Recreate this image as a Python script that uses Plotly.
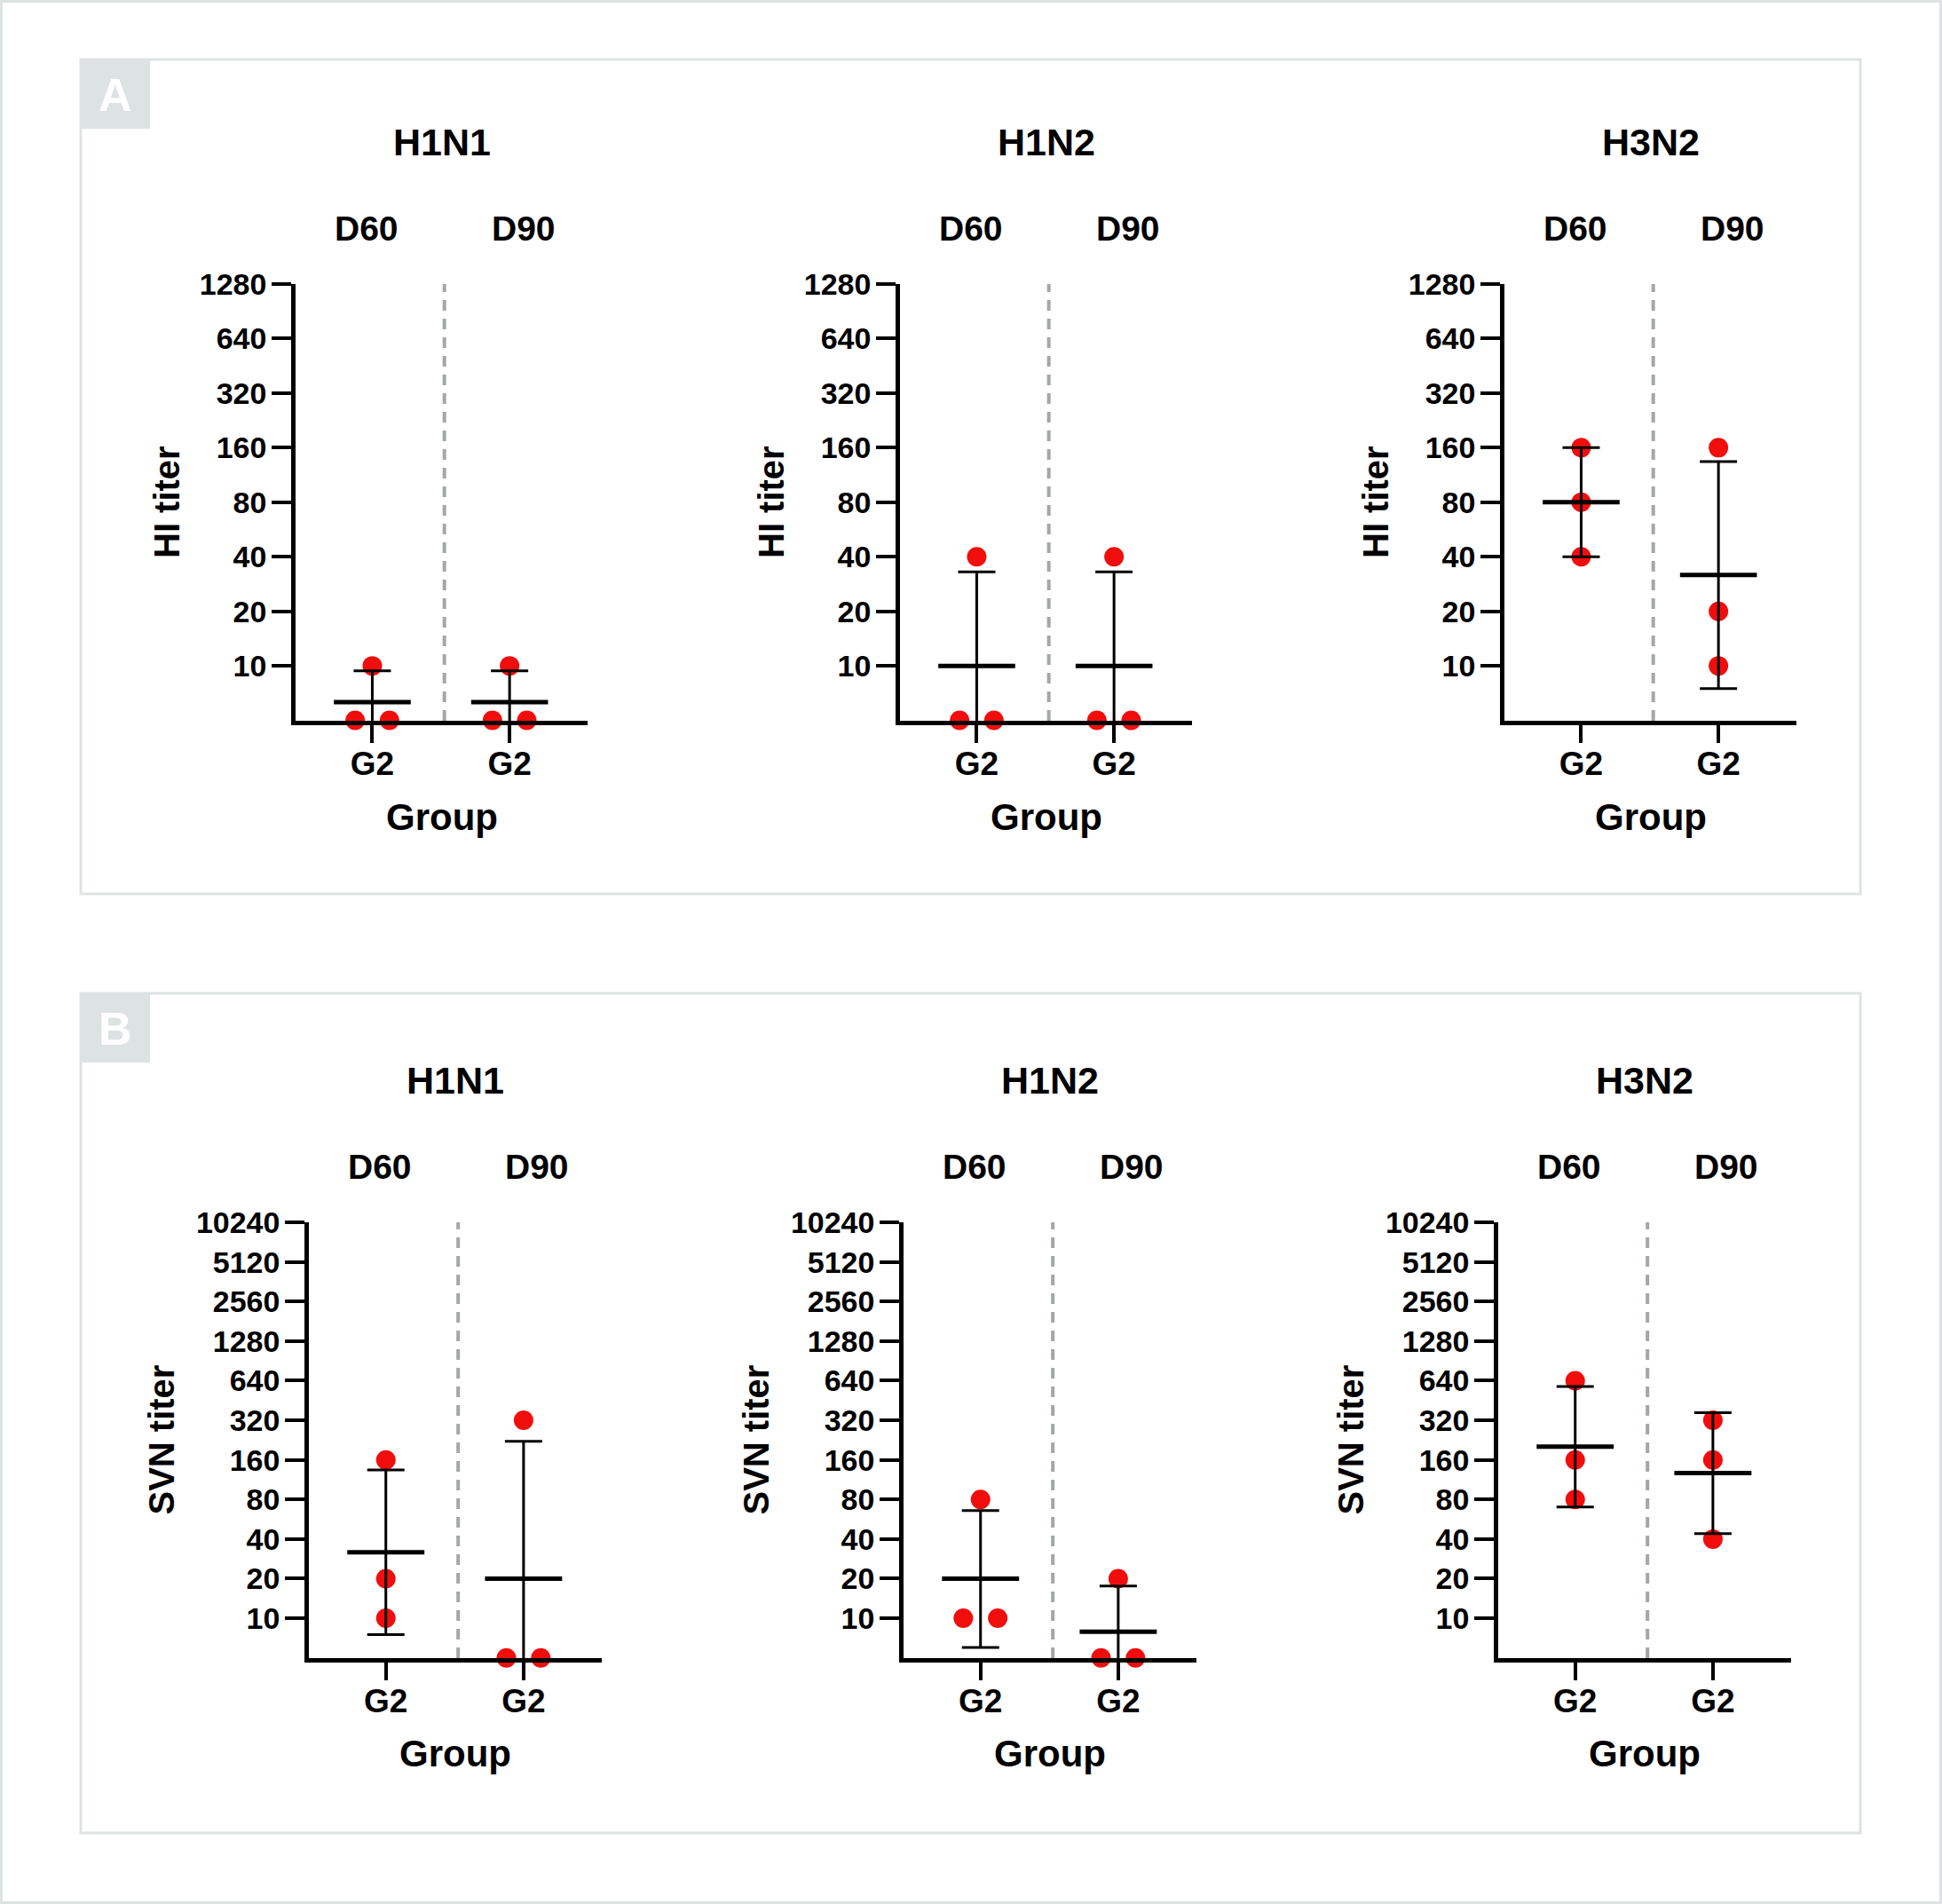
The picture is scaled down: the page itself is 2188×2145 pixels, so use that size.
import math
import plotly.graph_objects as go

W, H = 2188, 2145

# ---------------- data ----------------
viruses = ["H1N1", "H1N2", "H3N2"]
days = ["D60", "D90"]
group_labels = ["G2", "G2"]

hi_ticks = [10, 20, 40, 80, 160, 320, 640, 1280]
svn_ticks = [10, 20, 40, 80, 160, 320, 640, 1280, 2560, 5120, 10240]
floor_value = 5  # below detection limit, drawn on the x axis

# Panel A: HI titer, individual animals
hi_h1n1_d60 = [10, 5, 5]
hi_h1n1_d90 = [10, 5, 5]
hi_h1n2_d60 = [40, 5, 5]
hi_h1n2_d90 = [40, 5, 5]
hi_h3n2_d60 = [160, 80, 40]
hi_h3n2_d90 = [160, 20, 10]
# Panel A: geometric mean and SD limits (D60, D90)
hi_h1n1_mean = [6.3, 6.3]
hi_h1n1_high = [9.4, 9.4]
hi_h1n1_low = [4.2, 4.2]
hi_h1n2_mean = [10, 10]
hi_h1n2_high = [33, 33]
hi_h1n2_low = [3.0, 3.0]
hi_h3n2_mean = [80, 31.7]
hi_h3n2_high = [160, 134]
hi_h3n2_low = [40, 7.5]

# Panel B: SVN titer, individual animals
svn_h1n1_d60 = [160, 20, 10]
svn_h1n1_d90 = [320, 5, 5]
svn_h1n2_d60 = [80, 10, 10]
svn_h1n2_d90 = [20, 5, 5]
svn_h3n2_d60 = [640, 160, 80]
svn_h3n2_d90 = [320, 160, 40]
# Panel B: geometric mean and SD limits (D60, D90)
svn_h1n1_mean = [31.7, 20]
svn_h1n1_high = [134, 221]
svn_h1n1_low = [7.5, 1.8]
svn_h1n2_mean = [20, 7.9]
svn_h1n2_high = [66, 17.6]
svn_h1n2_low = [6.0, 3.6]
svn_h3n2_mean = [202, 127]
svn_h3n2_high = [578, 366]
svn_h3n2_low = [70, 44]

# ---------------- layout geometry (pixels) ----------------
def px(xp):
    return xp / W

def py(yp):
    return 1 - yp / H

RED = "#f20d0d"
FRAME = "#dde3e3"
FONT = "Liberation Sans, Arial, sans-serif"

panels = [
    dict(
        name="A", box=(91, 67, 2096, 1007), ytitle="HI titer", ticks=hi_ticks,
        top=1280, ax_left=[333, 1014, 1695], ax_w=329, y_top=320, y_base=812,
        title_y=160, day_y=257, group_y=920, ytitle_off=145,
        points=[[hi_h1n1_d60, hi_h1n1_d90], [hi_h1n2_d60, hi_h1n2_d90], [hi_h3n2_d60, hi_h3n2_d90]],
        mean=[hi_h1n1_mean, hi_h1n2_mean, hi_h3n2_mean],
        high=[hi_h1n1_high, hi_h1n2_high, hi_h3n2_high],
        low=[hi_h1n1_low, hi_h1n2_low, hi_h3n2_low],
    ),
    dict(
        name="B", box=(91, 1119, 2096, 2065), ytitle="SVN titer", ticks=svn_ticks,
        top=10240, ax_left=[348, 1018, 1688], ax_w=330, y_top=1377, y_base=1868,
        title_y=1217, day_y=1314, group_y=1975, ytitle_off=167,
        points=[[svn_h1n1_d60, svn_h1n1_d90], [svn_h1n2_d60, svn_h1n2_d90], [svn_h3n2_d60, svn_h3n2_d90]],
        mean=[svn_h1n1_mean, svn_h1n2_mean, svn_h3n2_mean],
        high=[svn_h1n1_high, svn_h1n2_high, svn_h3n2_high],
        low=[svn_h1n1_low, svn_h1n2_low, svn_h3n2_low],
    ),
]

X_RANGE = [-0.559, 1.568]
DIVIDER = 0.525
HALF_MEAN = 0.28
JIT = 0.125

fig = go.Figure()
layout = dict(
    width=W, height=H, margin=dict(l=0, r=0, t=0, b=0, autoexpand=False),
    paper_bgcolor="white", plot_bgcolor="white", showlegend=False,
    font=dict(family=FONT, color="black"),
)
shapes = []
annotations = []


def note(text, x, y, size, xref="paper", color="black", angle=0):
    annotations.append(dict(text="<b>%s</b>" % text, xref=xref, yref="paper", x=x, y=y,
                            xanchor="center", yanchor="middle", showarrow=False,
                            textangle=angle, font=dict(size=size, color=color, family=FONT)))


# outer frame
shapes.append(dict(type="rect", xref="paper", yref="paper", x0=px(1.5), x1=px(W - 1.5),
                   y0=py(H - 1.5), y1=py(1.5), line=dict(color=FRAME, width=3)))

k = 0
for p in panels:
    bx0, by0, bx1, by1 = p["box"]
    shapes.append(dict(type="rect", xref="paper", yref="paper", x0=px(bx0), x1=px(bx1),
                       y0=py(by1), y1=py(by0), line=dict(color=FRAME, width=3)))
    shapes.append(dict(type="rect", xref="paper", yref="paper", x0=px(bx0), x1=px(bx0 + 78),
                       y0=py(by0 + 78), y1=py(by0), fillcolor=FRAME, line=dict(width=0)))
    note(p["name"], px(bx0 + 39), py(by0 + 40), 52, color="white")
    for i, v in enumerate(viruses):
        k += 1
        xa = "xaxis" if k == 1 else "xaxis%d" % k
        ya = "yaxis" if k == 1 else "yaxis%d" % k
        xr = "x" if k == 1 else "x%d" % k
        yr = "y" if k == 1 else "y%d" % k
        left = p["ax_left"][i]
        right = left + p["ax_w"]
        layout[xa] = dict(
            domain=[px(left), px(right)], anchor=yr, range=X_RANGE,
            tickvals=[0, 1], ticktext=group_labels, ticks="outside", ticklen=20,
            tickwidth=4, tickcolor="black", showline=True, linewidth=4.5, linecolor="black",
            showgrid=False, zeroline=False, fixedrange=True, automargin=False,
            ticklabelstandoff=-8,
            tickfont=dict(size=37, family=FONT, color="black", weight="bold"),
        )
        layout[ya] = dict(
            domain=[py(p["y_base"]), py(p["y_top"])], anchor=xr, type="log",
            range=[math.log10(floor_value) - 0.002, math.log10(p["top"])],
            tickvals=p["ticks"], ticktext=[str(t) for t in p["ticks"]],
            ticks="outside", ticklen=22, tickwidth=4, tickcolor="black",
            showline=True, linewidth=4.5, linecolor="black", showgrid=False,
            zeroline=False, fixedrange=True, automargin=False,
            ticklabelstandoff=-1,
            tickfont=dict(size=34, family=FONT, color="black", weight="bold"),
        )
        # dashed divider
        shapes.append(dict(type="line", xref=xr, yref=yr + " domain", x0=DIVIDER, x1=DIVIDER,
                           y0=0, y1=1, line=dict(color="#a3a7a7", width=4, dash="12px,9px"),
                           layer="below"))
        # texts
        note(v, px((left + right) / 2), py(p["title_y"]), 43)
        for d, dx in zip(days, [-0.045, 1.10]):
            note(d, dx, py(p["day_y"]), 39, xref=xr)
        note("Group", px((left + right) / 2), py(p["group_y"]), 42)
        note(p["ytitle"], px(left - p["ytitle_off"]), py((p["y_top"] + p["y_base"]) / 2), 40,
             angle=-90)

        # points
        xs, ys = [], []
        for j in range(2):
            vals = p["points"][i][j]
            for n, val in enumerate(vals):
                dup = [m for m, w in enumerate(vals) if w == val]
                if len(dup) == 2:
                    off = -JIT if dup.index(n) == 0 else JIT
                else:
                    off = 0
                xs.append(j + off)
                ys.append(val)
        fig.add_trace(go.Scatter(x=xs, y=ys, mode="markers", xaxis=xr, yaxis=yr,
                                 marker=dict(size=22, color=RED, line=dict(width=0)),
                                 cliponaxis=False, hoverinfo="skip"))
        # error bars (geometric SD)
        means = p["mean"][i]
        highs = p["high"][i]
        lows = p["low"][i]
        fig.add_trace(go.Scatter(
            x=[0, 1], y=means, mode="markers", xaxis=xr, yaxis=yr,
            marker=dict(size=1, color="rgba(0,0,0,0)"), cliponaxis=True, hoverinfo="skip",
            error_y=dict(type="data", symmetric=False,
                         array=[h - m for h, m in zip(highs, means)],
                         arrayminus=[m - l for m, l in zip(means, lows)],
                         color="black", thickness=3, width=21)))
        # mean lines
        for j in range(2):
            fig.add_trace(go.Scatter(x=[j - HALF_MEAN, j + HALF_MEAN], y=[means[j], means[j]],
                                     mode="lines", xaxis=xr, yaxis=yr,
                                     line=dict(color="black", width=5), hoverinfo="skip"))

layout["shapes"] = shapes
layout["annotations"] = annotations
fig.update_layout(**layout)
fig.write_html("out.html", config={"displayModeBar": False})

# remove the default page margin so the figure fills the window exactly
with open("out.html", encoding="utf-8") as f:
    html = f.read()
html = html.replace("<head>", "<head><style>html,body{margin:0;padding:0;overflow:hidden;}</style>", 1)
with open("out.html", "w", encoding="utf-8") as f:
    f.write(html)
